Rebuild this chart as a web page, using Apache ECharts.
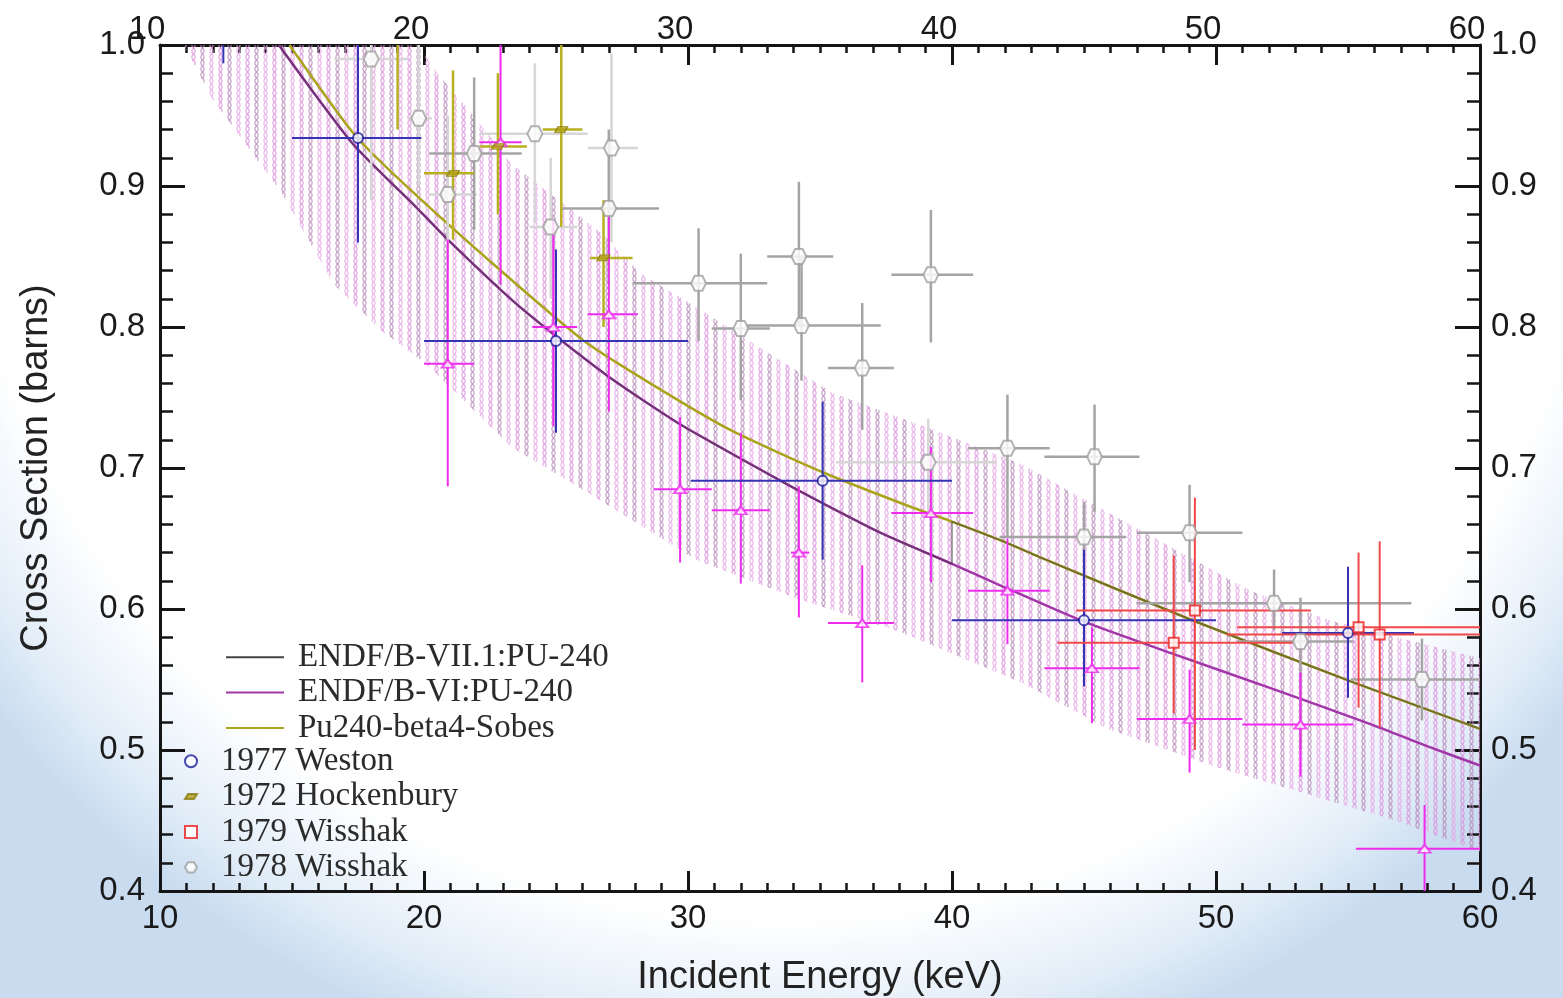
<!DOCTYPE html>
<html>
 <head>
  <title>Pu-240 capture cross section 10-60 keV</title>
  <script src="https://cdn.jsdelivr.net/npm/echarts@6/dist/echarts.min.js"></script>
  <style>
    html, body, #container {
    width: 100%;
    height: 100%;
    margin: 0;
    padding: 0;
    }
  </style>
 </head>
  <body>
    <div id="container"></div>
    <script>
      // evaluated curves [E keV, barns]
      var endf6 = [[14.5,1.0],[17.3,0.93],[19.7,0.885],[20.9,0.862],[23.4,0.818],[25.3,0.789],[27.2,0.762],
        [29.7,0.731],[33.5,0.691],[35.1,0.675],[37.3,0.654],[40,0.632],[41.8,0.617],[45.0,0.591],
        [48.4,0.568],[52.2,0.543],[55.9,0.518],[58.1,0.502],[60,0.489]];
      var sobes = [[14.9,1.0],[17.3,0.938],[19.1,0.904],[22.6,0.845],[26.0,0.791],[28.4,0.762],[31.6,0.727],
        [35.1,0.697],[38.5,0.672],[40,0.662],[41.8,0.649],[43.3,0.637],[49.1,0.592],[55.2,0.548],[60,0.515]];
      var endf71 = [[14.5,1.0],[17.3,0.93],[19.7,0.885],[20.9,0.862],[23.4,0.818],[25.3,0.789],[27.2,0.762],
        [29.7,0.731],[33.5,0.691],[35.1,0.675],[37.3,0.654],[40,0.632],[40,0.662],[41.8,0.649],
        [43.3,0.637],[49.1,0.592],[55.2,0.548],[60,0.515]];

      // uncertainty band edges
      var bandUpper = [[10.5,1.0],[19.8,1.0],[20.5,0.98],[21.6,0.956],[23.3,0.916],[26.7,0.867],[28.2,0.838],
        [30.5,0.812],[33.0,0.782],[35.5,0.753],[39.3,0.727],[42.6,0.703],[44.8,0.68],[48.0,0.647],
        [51.3,0.613],[54.3,0.592],[60,0.565]];
      var bandLower = [[10.9,1.0],[12.0,0.961],[14.6,0.895],[16.6,0.83],[18.4,0.797],[20.0,0.775],[21.4,0.75],
        [23.3,0.715],[26.5,0.679],[30.3,0.635],[34.2,0.607],[38.0,0.584],[42.6,0.548],[45.9,0.515],
        [50.0,0.488],[54.1,0.465],[56.8,0.45],[60,0.428]];

      // measurements: [E, sigma, E low, E high, sigma low, sigma high]
      var weston77 = [
        [12.4,1.05,12.4,12.4,0.987,1.11],
        [17.5,0.934,15.0,19.9,0.860,1.02],
        [25.0,0.790,20.0,30.0,0.725,0.855],
        [35.1,0.691,30.1,40.0,0.635,0.747],
        [45.0,0.592,40.0,50.0,0.545,0.642],
        [55.0,0.583,52.5,57.5,0.537,0.630]];
      var hocken72 = [
        [19.0,1.05,19.0,19.0,0.94,1.16],
        [21.1,0.909,20.0,21.9,0.862,0.982],
        [22.8,0.928,22.1,23.9,0.88,0.98],
        [25.2,0.940,24.5,26.0,0.871,1.02],
        [26.8,0.849,26.3,27.9,0.80,0.89]];
      var wisshak79 = [
        [49.2,0.599,44.7,53.6,0.50,0.679],
        [48.4,0.576,44.0,52.9,0.526,0.638],
        [55.4,0.587,50.8,60.0,0.530,0.640],
        [56.2,0.582,50.4,60.0,0.516,0.648]];
      var wisshak78 = [
        [21.9,0.923,20.2,23.7,0.869,0.977],
        [27.0,0.884,25.2,28.9,0.83,0.94],
        [30.4,0.831,27.9,33.0,0.79,0.87],
        [32.0,0.799,30.9,33.1,0.748,0.852],
        [34.2,0.850,33.0,35.5,0.80,0.903],
        [34.3,0.801,32.2,37.3,0.762,0.85],
        [36.6,0.771,35.3,37.8,0.727,0.817],
        [39.2,0.837,37.7,40.8,0.789,0.883],
        [42.1,0.714,40.6,43.7,0.651,0.752],
        [45.4,0.708,43.5,47.1,0.669,0.745],
        [45.0,0.651,41.8,46.6,0.62,0.676],
        [49.0,0.654,47.0,51.0,0.619,0.688],
        [52.2,0.604,47.0,57.4,0.585,0.628],
        [53.2,0.577,50.8,55.2,0.50,0.608],
        [57.8,0.550,55.1,60.0,0.521,0.579]];
      var wisshak78faint = [
        [18.0,0.990,16.6,19.4,0.89,1.09],
        [19.8,0.948,19.4,20.3,0.90,1.0],
        [20.9,0.894,20.2,22.0,0.84,0.95],
        [24.2,0.937,22.1,26.2,0.874,0.987],
        [27.1,0.927,26.2,28.1,0.86,0.994],
        [24.8,0.871,24.0,25.8,0.82,0.92],
        [39.1,0.704,35.6,41.7,0.67,0.735]];
      var other = [
        [22.9,0.931,22.1,23.7,0.83,1.03],
        [20.9,0.774,20.0,21.9,0.687,0.862],
        [24.9,0.80,24.1,25.8,0.73,0.876],
        [27.0,0.809,26.2,28.1,0.74,0.878],
        [29.7,0.685,28.7,30.9,0.633,0.736],
        [32.0,0.670,30.9,33.1,0.618,0.725],
        [34.2,0.640,33.9,34.6,0.594,0.687],
        [36.6,0.590,35.3,37.8,0.548,0.631],
        [39.2,0.668,37.7,40.8,0.619,0.715],
        [42.1,0.613,40.6,43.7,0.575,0.65],
        [45.3,0.558,43.5,47.1,0.519,0.587],
        [49.0,0.522,47.0,51.0,0.484,0.557],
        [53.2,0.518,51.0,55.2,0.481,0.555],
        [57.9,0.430,55.3,60.0,0.40,0.461]];

      var xTicks = [10, 20, 30, 40, 50, 60];
      var yTicks = [0.4, 0.5, 0.6, 0.7, 0.8, 0.9, 1.0];

      function hatch() {
        var c = document.createElement('canvas');
        c.width = 27; c.height = 6;
        var g = c.getContext('2d');
        [['#dc90dc', 4.5], ['#b888ba', 13.5], ['#e6a4e6', 22.5]].forEach(function (k) {
          g.strokeStyle = k[0];
          g.lineWidth = 1.1;
          g.beginPath();
          g.ellipse(k[1], 3, 1.6, 2.5, 0, 0, Math.PI * 2);
          g.stroke();
        });
        return c;
      }
      var hatchImg = hatch();

      function errBars(data, color, width) {
        return {
          type: 'custom', data: data, clip: true, z: 3, silent: true,
          renderItem: function (params, api) {
            var x = api.value(0), y = api.value(1);
            var a = api.coord([api.value(2), y]), b = api.coord([api.value(3), y]);
            var c = api.coord([x, api.value(4)]), d = api.coord([x, api.value(5)]);
            return { type: 'group', children: [
              { type: 'line', shape: { x1: a[0], y1: a[1], x2: b[0], y2: b[1] }, style: { stroke: color, lineWidth: width } },
              { type: 'line', shape: { x1: c[0], y1: c[1], x2: d[0], y2: d[1] }, style: { stroke: color, lineWidth: width } }
            ] };
          }
        };
      }

      var chart = echarts.init(document.getElementById('container'));
      var ink = '#151515';
      var tickFont = { fontFamily: 'Liberation Sans', fontSize: 33, color: '#1a1a1a' };
      var nameFont = { fontFamily: 'Liberation Sans', fontSize: 38, color: '#222' };

      function xAx(pos) {
        return {
          type: 'value', position: pos, min: 10, max: 60, interval: 10,
          name: pos === 'bottom' ? 'Incident Energy (keV)' : '',
          nameLocation: 'middle', nameGap: 54, nameMoveOverlap: false,
          nameTextStyle: nameFont,
          axisLine: { lineStyle: { color: ink, width: 3 } },
          axisTick: { inside: true, length: 20, lineStyle: { color: ink, width: 3 } },
          minorTick: { show: true, splitNumber: 10, length: 8, lineStyle: { color: ink, width: 2.5 } },
          splitLine: { show: false },
          axisLabel: Object.assign({ margin: pos === 'bottom' ? -1 : -13, padding: pos === 'top' ? [0, 26, 0, 0] : 0,
            formatter: function (v) { return xTicks.indexOf(v) >= 0 ? String(v) : ''; } }, tickFont)
        };
      }
      function yAx(pos) {
        return {
          type: 'value', position: pos, min: 0.4, max: 1.0, interval: 0.1,
          name: pos === 'left' ? 'Cross Section (barns)' : '',
          nameLocation: 'middle', nameGap: 91, nameMoveOverlap: false,
          nameTextStyle: nameFont,
          axisLine: { lineStyle: { color: ink, width: 3 } },
          axisTick: { inside: true, length: 25, lineStyle: { color: ink, width: 3 } },
          minorTick: { show: true, splitNumber: 5, length: 13, lineStyle: { color: ink, width: 2.5 } },
          splitLine: { show: false },
          axisLabel: Object.assign({ margin: pos === 'left' ? 15 : 11,
            formatter: function (v) {
              var t = yTicks.filter(function (k) { return Math.abs(k - v) < 1e-6; });
              return t.length ? t[0].toFixed(1) : '';
            } }, tickFont)
        };
      }

      var serif = { fontFamily: 'Liberation Serif', fontSize: 33, color: '#2b2b2b' };

      var option = {
        animation: false,
        backgroundColor: {
          type: 'radial', x: 0.5, y: 0.1, r: 1.0,
          colorStops: [{ offset: 0, color: '#ffffff' }, { offset: 0.82, color: '#ffffff' },
            { offset: 0.93, color: '#e2edf8' }, { offset: 1, color: '#c8dbef' }]
        },
        grid: { left: 160, right: 83, top: 45, bottom: 107, containLabel: false, outerBoundsMode: 'none' },
        xAxis: [xAx('bottom'), xAx('top')],
        yAxis: [yAx('left'), yAx('right')],
        legend: [
          {
            orient: 'vertical', left: 225, top: 632, padding: 0, itemGap: -15,
            itemWidth: 58, itemHeight: 14, selectedMode: false,
            itemStyle: { opacity: 0 },
            textStyle: Object.assign({ padding: [0, 0, 0, 9] }, serif),
            data: [
              { name: 'ENDF/B-VII.1:PU-240', lineStyle: { color: '#444', opacity: 1, width: 2 } },
              'ENDF/B-VI:PU-240', 'Pu240-beta4-Sobes']
          },
          {
            orient: 'vertical', left: 184, top: 736, padding: 0, itemGap: -15,
            itemWidth: 12, itemHeight: 12, selectedMode: false,
            textStyle: Object.assign({ padding: [0, 0, 0, 19] }, serif),
            data: ['1977 Weston', '1972 Hockenbury', '1979 Wisshak', '1978 Wisshak']
          }
        ],
        series: [
          {
            type: 'custom', data: bandUpper, clip: true, z: 1, silent: true,
            renderItem: function (params, api) {
              if (params.dataIndex !== 0) return null;
              var pts = bandUpper.map(function (p) { return api.coord(p); })
                .concat(bandLower.slice().reverse().map(function (p) { return api.coord(p); }));
              return { type: 'polygon', shape: { points: pts },
                style: { fill: { image: hatchImg, repeat: 'repeat' }, opacity: 0.9 } };
            }
          },
          { name: 'ENDF/B-VI:PU-240', type: 'line', data: endf6, showSymbol: false, symbol: 'none', z: 2,
            smooth: 0.2, lineStyle: { color: '#a236a8', width: 2.5 }, itemStyle: { color: '#a236a8' } },
          { name: 'Pu240-beta4-Sobes', type: 'line', data: sobes, showSymbol: false, symbol: 'none', z: 2,
            smooth: 0.2, lineStyle: { color: '#aaa31c', width: 2.5 }, itemStyle: { color: '#aaa31c' } },
          { name: 'ENDF/B-VII.1:PU-240', type: 'line', data: endf71, showSymbol: false, symbol: 'none', z: 2,
            smooth: 0.2, lineStyle: { color: '#333', width: 2, opacity: 0.45 }, itemStyle: { color: '#444' } },

          errBars(wisshak78faint, '#d6d6d6', 2.5),
          errBars(wisshak78, '#a4a4a4', 2.5),
          errBars(hocken72, '#b8b020', 2.5),
          errBars(other, '#ee2cee', 2),
          errBars(weston77, '#3434b4', 2),
          errBars(wisshak79, '#f04848', 2),

          { name: '1978 Wisshak', type: 'scatter', data: wisshak78.concat(wisshak78faint), z: 4,
            symbol: 'path://M5,0 L15,0 L20,8.66 L15,17.32 L5,17.32 L0,8.66 Z', symbolSize: 15,
            itemStyle: { color: '#ffffff', borderColor: '#a0a0a0', borderWidth: 2 } },
          { name: 'other', type: 'scatter', data: other, z: 4,
            symbol: 'triangle', symbolSize: [12, 8],
            itemStyle: { color: '#ffffff', borderColor: '#ee2cee', borderWidth: 2 } },
          { name: '1972 Hockenbury', type: 'scatter', data: hocken72, z: 4,
            symbol: 'path://M3,0 L12,0 L9,5 L0,5 Z', symbolSize: [13, 6],
            itemStyle: { color: '#b0a018', borderColor: '#8a7a10', borderWidth: 1 } },
          { name: '1977 Weston', type: 'scatter', data: weston77, z: 4,
            symbol: 'circle', symbolSize: 10,
            itemStyle: { color: '#ffffff', borderColor: '#1c1c9c', borderWidth: 2 } },
          { name: '1979 Wisshak', type: 'scatter', data: wisshak79, z: 4,
            symbol: 'rect', symbolSize: 10,
            itemStyle: { color: '#ffffff', borderColor: '#ee2020', borderWidth: 2 } }
        ]
      };
      chart.setOption(option);
    </script>
  </body>
</html>
